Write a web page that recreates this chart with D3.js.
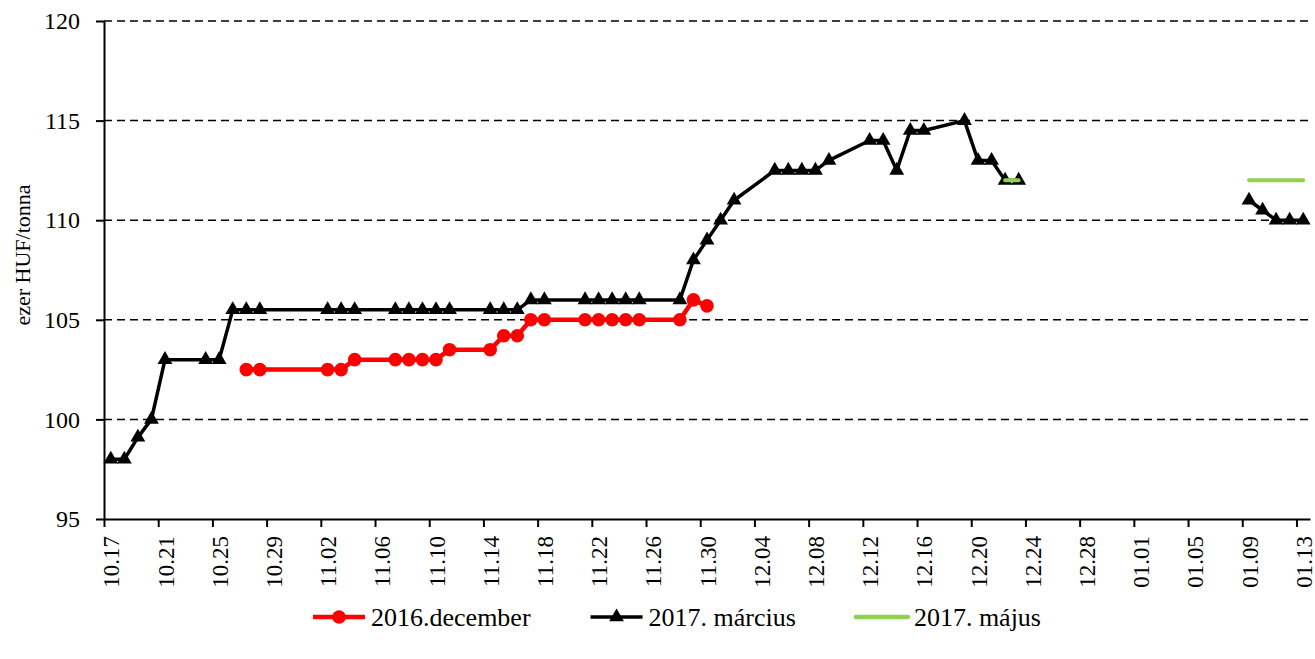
<!DOCTYPE html>
<html>
<head>
<meta charset="utf-8">
<style>
body{margin:0;background:#fff;}
text{font-family:"Liberation Serif","Times New Roman",serif;fill:#000;}
</style>
</head>
<body>
<svg id="chart"></svg>
<script src="https://d3js.org/d3.v7.min.js"></script>
<script>
// trading days (rows of the source table), empty rows = gap in the lines
var dates = ["2016-10-17","2016-10-18","2016-10-19","2016-10-20","2016-10-21","2016-10-24","2016-10-25","2016-10-26","2016-10-27","2016-10-28",
  "2016-11-02","2016-11-03","2016-11-04","2016-11-07","2016-11-08","2016-11-09","2016-11-10","2016-11-11","2016-11-14","2016-11-15",
  "2016-11-16","2016-11-17","2016-11-18","2016-11-21","2016-11-22","2016-11-23","2016-11-24","2016-11-25","2016-11-28","2016-11-29",
  "2016-11-30","2016-12-01","2016-12-02","2016-12-05","2016-12-06","2016-12-07","2016-12-08","2016-12-09","2016-12-12","2016-12-13",
  "2016-12-14","2016-12-15","2016-12-16","2016-12-19","2016-12-20","2016-12-21","2016-12-22","2016-12-23","2016-12-27","2016-12-28",
  "2016-12-29","2016-12-30","2017-01-02","2017-01-03","2017-01-04","2017-01-05","2017-01-06","2017-01-09","2017-01-10","2017-01-11",
  "2017-01-12","2017-01-13"];
var dec2016 = [null,null,null,null,null,null,null,null,102.5,102.5,
  102.5,102.5,103,103,103,103,103,103.5,103.5,104.2,
  104.2,105,105,105,105,105,105,105,105,106,
  105.7,null,null,null,null,null,null,null,null,null,
  null,null,null,null,null,null,null,null,null,null,
  null,null,null,null,null,null,null,null,null,null,
  null,null];
var mar2017 = [98,98,99.1,100,103,103,103,105.5,105.5,105.5,
  105.5,105.5,105.5,105.5,105.5,105.5,105.5,105.5,105.5,105.5,
  105.5,106,106,106,106,106,106,106,106,108,
  109,110,111,112.5,112.5,112.5,112.5,113,114,114,
  112.5,114.5,114.5,115,113,113,112,112,null,null,
  null,null,null,null,null,null,null,111,110.5,110,
  110,110];
var maj2017 = [null,null,null,null,null,null,null,null,null,null,
  null,null,null,null,null,null,null,null,null,null,
  null,null,null,null,null,null,null,null,null,null,
  null,null,null,null,null,null,null,null,null,null,
  null,null,null,null,null,null,112,112,null,null,
  null,null,null,null,null,null,null,112,112,112,
  112,112];
var seriesNames = ["2016.december","2017. március","2017. május"];
var yTicks = [95,100,105,110,115,120];
var axisStart = "2016-10-17", axisEnd = "2017-01-14";

var width = 1315, height = 659;
var svg = d3.select("#chart").attr("width",width).attr("height",height);
var parse = d3.utcParse("%Y-%m-%d");
var start = parse(axisStart), end = parse(axisEnd);
var plot = {left:104, right:1310, top:21, bottom:519};
var serif = '"Liberation Serif","Times New Roman",serif';

var xScale = d3.scaleUtc().domain([start,end]).range([plot.left,plot.right]);
var yScale = d3.scaleLinear().domain([95,120]).range([plot.bottom,plot.top]);
var days = dates.map(function(d){ return d3.utcHour.offset(parse(d),12); }); // points sit in the middle of the day
var halfDay = xScale(d3.utcHour.offset(start,12)) - xScale(start);

// gridlines
svg.append("g").selectAll("line")
  .data(yTicks.slice(1))
  .enter().append("line")
  .attr("x1",plot.left).attr("x2",plot.right)
  .attr("y1",function(d){return yScale(d);}).attr("y2",function(d){return yScale(d);})
  .attr("stroke","#000").attr("stroke-width",1.5).attr("stroke-dasharray","8,5");

// y axis
var yAxis = d3.axisLeft(yScale).tickValues(yTicks).tickSize(8).tickSizeOuter(0).tickPadding(16);
var gy = svg.append("g").attr("transform","translate("+plot.left+",0)").call(yAxis);
gy.attr("font-family",serif);
gy.selectAll("text").style("font-family",serif).style("font-size","24px");

// x axis (labels centred on the day, ticks on day boundaries)
var xTicks = d3.range(0,89,4).map(function(i){ return d3.utcDay.offset(start,i); });
var xAxis = d3.axisBottom(xScale).tickValues(xTicks).tickFormat(d3.utcFormat("%m.%d")).tickSize(8).tickSizeOuter(0);
var gx = svg.append("g").attr("transform","translate(0,"+plot.bottom+")").call(xAxis);
gx.attr("font-family",serif);
gx.selectAll("text")
  .attr("transform","rotate(-90)")
  .attr("x",-17).attr("y",halfDay).attr("dy","0.35em")
  .style("text-anchor","end").style("font-family",serif).style("font-size","23px");
svg.selectAll(".domain,.tick line").attr("stroke","#000").attr("stroke-width",2);

svg.append("text")
  .attr("transform","translate(22,255) rotate(-90)")
  .attr("dy","0.35em")
  .style("text-anchor","middle").style("font-size","22px")
  .text("ezer HUF/tonna");

function drawLine(values,color,w){
  var line = d3.line()
    .defined(function(d,i){ return values[i] !== null; })
    .x(function(d,i){ return xScale(days[i]); })
    .y(function(d,i){ return yScale(values[i]); });
  svg.append("path")
    .attr("d",line(values))
    .attr("fill","none").attr("stroke",color).attr("stroke-width",w)
    .attr("stroke-linejoin","round").attr("stroke-linecap","round");
}
var idx = function(values){ return d3.range(values.length).filter(function(i){ return values[i] !== null; }); };
var triangle = d3.symbol().type(d3.symbolTriangle).size(95);

// 2016.december
drawLine(dec2016,"#ff0000",4.5);
svg.append("g").selectAll("circle")
  .data(idx(dec2016)).enter().append("circle")
  .attr("cx",function(i){return xScale(days[i]);})
  .attr("cy",function(i){return yScale(dec2016[i]);})
  .attr("r",6.8).attr("fill","#ff0000");

// 2017. március
drawLine(mar2017,"#000",3.5);
svg.append("g").selectAll("path")
  .data(idx(mar2017)).enter().append("path")
  .attr("d",triangle)
  .attr("transform",function(i){return "translate("+xScale(days[i])+","+yScale(mar2017[i])+")";})
  .attr("fill","#000");

// 2017. május
drawLine(maj2017,"#92d050",4);

// legend
var legend = svg.append("g");
var colors = ["#ff0000","#000","#92d050"];
var lx = 0;
seriesNames.forEach(function(name,k){
  var g = legend.append("g").attr("transform","translate("+lx+",0)");
  g.append("line").attr("x1",0).attr("x2",52).attr("y1",0).attr("y2",0)
    .attr("stroke",colors[k]).attr("stroke-width",k==1?3.5:4.5).attr("stroke-linecap",k==2?"round":"butt");
  if(k==0) g.append("circle").attr("cx",26).attr("cy",0).attr("r",6.8).attr("fill",colors[k]);
  if(k==1) g.append("path").attr("d",triangle).attr("transform","translate(26,0)").attr("fill","#000");
  var t = g.append("text").attr("x",58).attr("y",0).attr("dy","0.35em").style("font-size","26px").text(name);
  lx += 58 + t.node().getComputedTextLength() + 60;
});
var lw = lx - 60;
legend.attr("transform","translate("+(677-lw/2)+",617)");
</script>
</body>
</html>
